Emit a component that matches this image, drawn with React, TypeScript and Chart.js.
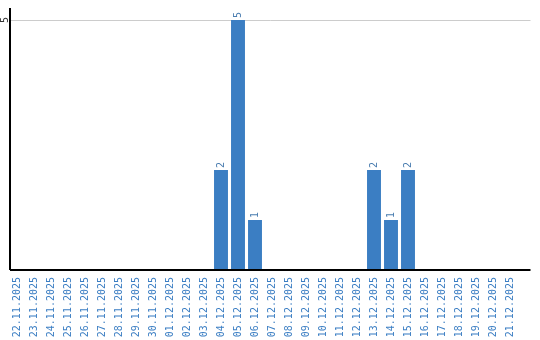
import React, { useEffect, useRef } from "react";
import { Chart, registerables } from "chart.js";

Chart.register(...registerables);

const categories: string[] = [
  "22.11.2025", "23.11.2025", "24.11.2025", "25.11.2025", "26.11.2025",
  "27.11.2025", "28.11.2025", "29.11.2025", "30.11.2025", "01.12.2025",
  "02.12.2025", "03.12.2025", "04.12.2025", "05.12.2025", "06.12.2025",
  "07.12.2025", "08.12.2025", "09.12.2025", "10.12.2025", "11.12.2025",
  "12.12.2025", "13.12.2025", "14.12.2025", "15.12.2025", "16.12.2025",
  "17.12.2025", "18.12.2025", "19.12.2025", "20.12.2025", "21.12.2025",
];
const counts: number[] = [
  0, 0, 0, 0, 0, 0, 0, 0, 0, 0,
  0, 0, 2, 5, 1, 0, 0, 0, 0, 0,
  0, 2, 1, 2, 0, 0, 0, 0, 0, 0,
];
const yTickValues: number[] = [5];

const FONT = "'DejaVu Sans Mono', monospace";
const BAR_COLOR = "#3b7ec3";
const LABEL_COLOR = "#3b7ec3";

const overlayPlugin = {
  id: "overlay",
  beforeDatasetsDraw(chart: any) {
    const ctx = chart.ctx;
    const area = chart.chartArea;
    const y = chart.scales.y;
    ctx.save();
    ctx.strokeStyle = "#cccccc";
    ctx.lineWidth = 1;
    yTickValues.forEach((v) => {
      const py = Math.round(y.getPixelForValue(v)) + 0.5;
      ctx.beginPath();
      ctx.moveTo(area.left + 1.5, py);
      ctx.lineTo(area.right + 12, py);
      ctx.stroke();
    });
    ctx.restore();
  },
  afterDraw(chart: any) {
    const ctx = chart.ctx;
    const area = chart.chartArea;
    const y = chart.scales.y;
    ctx.save();
    // axis lines
    ctx.strokeStyle = "#000";
    ctx.lineWidth = 2;
    ctx.beginPath();
    ctx.moveTo(area.left + 1.5, area.top);
    ctx.lineTo(area.left + 1.5, area.bottom);
    ctx.moveTo(area.left + 1.5, area.bottom);
    ctx.lineTo(area.right + 12, area.bottom);
    ctx.stroke();
    // y tick labels, rotated
    ctx.fillStyle = "#333";
    ctx.font = `10px ${FONT}`;
    ctx.textAlign = "center";
    ctx.textBaseline = "middle";
    yTickValues.forEach((v) => {
      const py = y.getPixelForValue(v);
      ctx.save();
      ctx.translate(area.left - 3.5, py);
      ctx.rotate(-Math.PI / 2);
      ctx.fillText(String(v), 0, 0);
      ctx.restore();
    });
    // value labels above bars
    const meta = chart.getDatasetMeta(0);
    ctx.fillStyle = "#4a7db0";
    ctx.textAlign = "left";
    ctx.textBaseline = "middle";
    meta.data.forEach((bar: any, i: number) => {
      const v = counts[i];
      if (!v) return;
      ctx.save();
      ctx.translate(bar.x, bar.y - 2);
      ctx.rotate(-Math.PI / 2);
      ctx.fillText(String(v), 0, 0);
      ctx.restore();
    });
    ctx.restore();
  },
};

export default function App() {
  const ref = useRef<HTMLCanvasElement | null>(null);
  useEffect(() => {
    document.body.style.margin = "0";
    const chart = new Chart(ref.current as HTMLCanvasElement, {
      type: "bar",
      data: {
        labels: categories,
        datasets: [
          {
            data: counts,
            backgroundColor: BAR_COLOR,
            borderWidth: 0,
            categoryPercentage: 1,
            barPercentage: 0.82,
          },
        ],
      },
      options: {
        animation: false,
        responsive: false,
        maintainAspectRatio: false,
        layout: { padding: { left: 8.5, right: 21.5, top: 8, bottom: 0 } },
        plugins: { legend: { display: false }, tooltip: { enabled: false } },
        scales: {
          x: {
            grid: { display: false, drawTicks: false },
            border: { display: false },
            afterFit: (scale: any) => {
              scale.height = 70;
            },
            ticks: {
              maxRotation: 90,
              minRotation: 90,
              autoSkip: false,
              padding: 7,
              color: LABEL_COLOR,
              font: { family: FONT, size: 10 },
            },
          },
          y: {
            min: 0,
            max: 5.24,
            border: { display: false },
            grid: { display: false, drawTicks: false },
            ticks: { display: false, stepSize: 5 },
            afterBuildTicks: (scale: any) => {
              scale.ticks = yTickValues.map((v) => ({ value: v }));
            },
          },
        },
      },
      plugins: [overlayPlugin],
    });
    return () => chart.destroy();
  }, []);
  return <canvas ref={ref} width={540} height={340} style={{ display: "block" }} />;
}
